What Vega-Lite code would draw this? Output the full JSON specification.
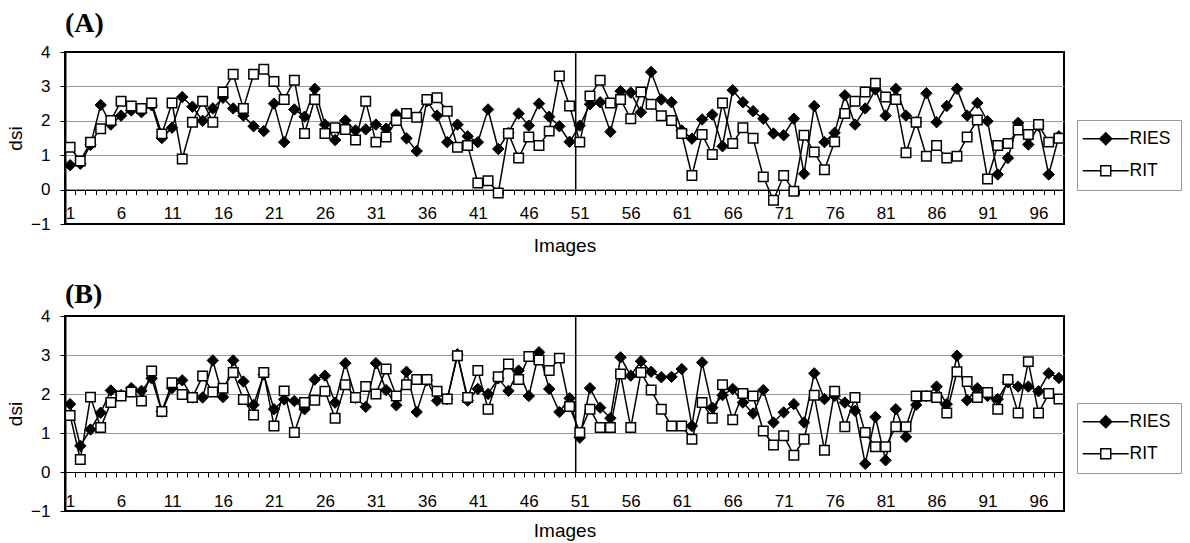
{
"$schema": "https://vega.github.io/schema/vega-lite/v6.json",
"padding": {"left": 5, "top": 9, "right": 0, "bottom": 0},
"spacing": 23,
"datasets": {
"a": [{"i":1,"RIES":0.71,"RIT":1.23},{"i":2,"RIES":0.75,"RIT":0.83},{"i":3,"RIES":1.3,"RIT":1.38},{"i":4,"RIES":2.46,"RIT":1.77},{"i":5,"RIES":1.89,"RIT":2.01},{"i":6,"RIES":2.15,"RIT":2.57},{"i":7,"RIES":2.3,"RIT":2.43},{"i":8,"RIES":2.25,"RIT":2.36},{"i":9,"RIES":2.45,"RIT":2.52},{"i":10,"RIES":1.5,"RIT":1.62},
{"i":11,"RIES":1.8,"RIT":2.52},{"i":12,"RIES":2.69,"RIT":0.89},{"i":13,"RIES":2.41,"RIT":1.96},{"i":14,"RIES":2.0,"RIT":2.57},{"i":15,"RIES":2.36,"RIT":1.96},{"i":16,"RIES":2.67,"RIT":2.84},{"i":17,"RIES":2.36,"RIT":3.35},{"i":18,"RIES":2.15,"RIT":2.36},{"i":19,"RIES":1.84,"RIT":3.35},{"i":20,"RIES":1.7,"RIT":3.5},
{"i":21,"RIES":2.5,"RIT":3.14},{"i":22,"RIES":1.38,"RIT":2.62},{"i":23,"RIES":2.33,"RIT":3.18},{"i":24,"RIES":2.12,"RIT":1.63},{"i":25,"RIES":2.93,"RIT":2.62},{"i":26,"RIES":1.89,"RIT":1.63},{"i":27,"RIES":1.44,"RIT":1.8},{"i":28,"RIES":2.01,"RIT":1.75},{"i":29,"RIES":1.72,"RIT":1.44},{"i":30,"RIES":1.75,"RIT":2.57},
{"i":31,"RIES":1.89,"RIT":1.38},{"i":32,"RIES":1.77,"RIT":1.53},{"i":33,"RIES":2.18,"RIT":2.01},{"i":34,"RIES":1.49,"RIT":2.21},{"i":35,"RIES":1.12,"RIT":2.1},{"i":36,"RIES":2.57,"RIT":2.62},{"i":37,"RIES":2.15,"RIT":2.67},{"i":38,"RIES":1.38,"RIT":2.28},{"i":39,"RIES":1.89,"RIT":1.23},{"i":40,"RIES":1.55,"RIT":1.28},
{"i":41,"RIES":1.38,"RIT":0.19},{"i":42,"RIES":2.33,"RIT":0.26},{"i":43,"RIES":1.18,"RIT":-0.1},{"i":44,"RIES":1.65,"RIT":1.63},{"i":45,"RIES":2.21,"RIT":0.92},{"i":46,"RIES":1.86,"RIT":1.53},{"i":47,"RIES":2.5,"RIT":1.28},{"i":48,"RIES":2.12,"RIT":1.7},{"i":49,"RIES":1.84,"RIT":3.3},{"i":50,"RIES":1.39,"RIT":2.43},
{"i":51,"RIES":1.86,"RIT":1.38},{"i":52,"RIES":2.48,"RIT":2.72},{"i":53,"RIES":2.54,"RIT":3.18},{"i":54,"RIES":1.68,"RIT":2.52},{"i":55,"RIES":2.86,"RIT":2.62},{"i":56,"RIES":2.82,"RIT":2.06},{"i":57,"RIES":2.25,"RIT":2.84},{"i":58,"RIES":3.42,"RIT":2.48},{"i":59,"RIES":2.62,"RIT":2.15},{"i":60,"RIES":2.54,"RIT":2.01},
{"i":61,"RIES":1.72,"RIT":1.63},{"i":62,"RIES":1.48,"RIT":0.41},{"i":63,"RIES":2.04,"RIT":1.6},{"i":64,"RIES":2.18,"RIT":1.02},{"i":65,"RIES":1.26,"RIT":2.52},{"i":66,"RIES":2.89,"RIT":1.34},{"i":67,"RIES":2.54,"RIT":1.8},{"i":68,"RIES":2.28,"RIT":1.49},{"i":69,"RIES":2.06,"RIT":0.37},{"i":70,"RIES":1.63,"RIT":-0.31},
{"i":71,"RIES":1.58,"RIT":0.41},{"i":72,"RIES":2.06,"RIT":-0.05},{"i":73,"RIES":0.46,"RIT":1.58},{"i":74,"RIES":2.43,"RIT":1.09},{"i":75,"RIES":1.38,"RIT":0.58},{"i":76,"RIES":1.65,"RIT":1.39},{"i":77,"RIES":2.74,"RIT":2.21},{"i":78,"RIES":1.89,"RIT":2.57},{"i":79,"RIES":2.36,"RIT":2.84},{"i":80,"RIES":2.91,"RIT":3.09},
{"i":81,"RIES":2.15,"RIT":2.69},{"i":82,"RIES":2.93,"RIT":2.62},{"i":83,"RIES":2.15,"RIT":1.07},{"i":84,"RIES":1.96,"RIT":1.96},{"i":85,"RIES":2.8,"RIT":0.97},{"i":86,"RIES":1.96,"RIT":1.28},{"i":87,"RIES":2.43,"RIT":0.92},{"i":88,"RIES":2.93,"RIT":0.97},{"i":89,"RIES":2.15,"RIT":1.53},{"i":90,"RIES":2.52,"RIT":2.02},
{"i":91,"RIES":1.99,"RIT":0.31},{"i":92,"RIES":0.44,"RIT":1.28},{"i":93,"RIES":0.92,"RIT":1.34},{"i":94,"RIES":1.94,"RIT":1.73},{"i":95,"RIES":1.31,"RIT":1.6},{"i":96,"RIES":1.85,"RIT":1.89},{"i":97,"RIES":0.44,"RIT":1.38},{"i":98,"RIES":1.55,"RIT":1.49}],
"b": [{"i":1,"RIES":1.74,"RIT":1.45},{"i":2,"RIES":0.67,"RIT":0.32},{"i":3,"RIES":1.09,"RIT":1.92},{"i":4,"RIES":1.52,"RIT":1.14},{"i":5,"RIES":2.09,"RIT":1.78},{"i":6,"RIES":1.97,"RIT":1.95},{"i":7,"RIES":2.15,"RIT":2.05},{"i":8,"RIES":2.08,"RIT":1.82},{"i":9,"RIES":2.4,"RIT":2.59},{"i":10,"RIES":1.55,"RIT":1.55},
{"i":11,"RIES":2.15,"RIT":2.29},{"i":12,"RIES":2.35,"RIT":1.99},{"i":13,"RIES":1.91,"RIT":1.91},{"i":14,"RIES":1.91,"RIT":2.46},{"i":15,"RIES":2.86,"RIT":2.05},{"i":16,"RIES":1.92,"RIT":2.15},{"i":17,"RIES":2.86,"RIT":2.55},{"i":18,"RIES":2.32,"RIT":1.86},{"i":19,"RIES":1.72,"RIT":1.46},{"i":20,"RIES":2.5,"RIT":2.55},
{"i":21,"RIES":1.61,"RIT":1.18},{"i":22,"RIES":1.86,"RIT":2.08},{"i":23,"RIES":1.82,"RIT":1.01},{"i":24,"RIES":1.61,"RIT":1.78},{"i":25,"RIES":2.37,"RIT":1.84},{"i":26,"RIES":2.47,"RIT":2.07},{"i":27,"RIES":1.78,"RIT":1.38},{"i":28,"RIES":2.79,"RIT":2.24},{"i":29,"RIES":1.9,"RIT":1.91},{"i":30,"RIES":1.67,"RIT":2.19},
{"i":31,"RIES":2.79,"RIT":2.0},{"i":32,"RIES":2.1,"RIT":2.64},{"i":33,"RIES":1.71,"RIT":1.95},{"i":34,"RIES":2.57,"RIT":2.24},{"i":35,"RIES":1.54,"RIT":2.37},{"i":36,"RIES":2.35,"RIT":2.37},{"i":37,"RIES":1.83,"RIT":2.07},{"i":38,"RIES":1.87,"RIT":1.87},{"i":39,"RIES":3.02,"RIT":2.98},{"i":40,"RIES":1.83,"RIT":1.91},
{"i":41,"RIES":2.13,"RIT":2.6},{"i":42,"RIES":2.0,"RIT":1.61},{"i":43,"RIES":2.4,"RIT":2.44},{"i":44,"RIES":2.08,"RIT":2.77},{"i":45,"RIES":2.6,"RIT":2.37},{"i":46,"RIES":1.95,"RIT":2.96},{"i":47,"RIES":3.07,"RIT":2.87},{"i":48,"RIES":2.13,"RIT":2.6},{"i":49,"RIES":1.54,"RIT":2.92},{"i":50,"RIES":1.89,"RIT":1.68},
{"i":51,"RIES":0.88,"RIT":1.01},{"i":52,"RIES":2.15,"RIT":1.61},{"i":53,"RIES":1.65,"RIT":1.14},{"i":54,"RIES":1.38,"RIT":1.14},{"i":55,"RIES":2.94,"RIT":2.51},{"i":56,"RIES":2.47,"RIT":1.14},{"i":57,"RIES":2.84,"RIT":2.55},{"i":58,"RIES":2.57,"RIT":2.1},{"i":59,"RIES":2.43,"RIT":1.61},{"i":60,"RIES":2.44,"RIT":1.18},
{"i":61,"RIES":2.64,"RIT":1.18},{"i":62,"RIES":1.18,"RIT":0.84},{"i":63,"RIES":2.81,"RIT":1.78},{"i":64,"RIES":1.65,"RIT":1.38},{"i":65,"RIES":1.97,"RIT":2.24},{"i":66,"RIES":2.13,"RIT":1.34},{"i":67,"RIES":1.78,"RIT":2.01},{"i":68,"RIES":1.5,"RIT":1.95},{"i":69,"RIES":2.1,"RIT":1.05},{"i":70,"RIES":1.27,"RIT":0.69},
{"i":71,"RIES":1.53,"RIT":0.93},{"i":72,"RIES":1.74,"RIT":0.43},{"i":73,"RIES":1.27,"RIT":0.84},{"i":74,"RIES":2.53,"RIT":1.97},{"i":75,"RIES":1.87,"RIT":0.56},{"i":76,"RIES":1.95,"RIT":2.07},{"i":77,"RIES":1.78,"RIT":1.16},{"i":78,"RIES":1.57,"RIT":1.91},{"i":79,"RIES":0.21,"RIT":1.01},{"i":80,"RIES":1.41,"RIT":0.65},
{"i":81,"RIES":0.3,"RIT":0.65},{"i":82,"RIES":1.61,"RIT":1.16},{"i":83,"RIES":0.9,"RIT":1.16},{"i":84,"RIES":1.72,"RIT":1.95},{"i":85,"RIES":1.95,"RIT":1.95},{"i":86,"RIES":2.19,"RIT":1.91},{"i":87,"RIES":1.74,"RIT":1.51},{"i":88,"RIES":2.98,"RIT":2.57},{"i":89,"RIES":1.84,"RIT":2.32},{"i":90,"RIES":2.15,"RIT":1.91},
{"i":91,"RIES":1.95,"RIT":2.04},{"i":92,"RIES":1.87,"RIT":1.61},{"i":93,"RIES":2.3,"RIT":2.37},{"i":94,"RIES":2.19,"RIT":1.51},{"i":95,"RIES":2.19,"RIT":2.83},{"i":96,"RIES":2.07,"RIT":1.51},{"i":97,"RIES":2.53,"RIT":2.01},{"i":98,"RIES":2.41,"RIT":1.87}],
"divider": [{"i":50.6,"v":0,"v2":4}]
},
"config": {
"font": "Liberation Sans",
"view": {"stroke": "black", "strokeWidth": 2},
"title": {"font": "Liberation Serif", "fontSize": 28, "fontWeight": "bold", "anchor": "start", "frame": "group", "color": "black"},
"axis": {"labelFont": "Liberation Sans", "titleFont": "Liberation Sans", "labelColor": "black", "titleColor": "black", "labelFontSize": 17, "titleFontSize": 19, "titleFontWeight": "normal", "tickColor": "black", "domainColor": "black", "tickSize": 5},
"legend": {"title": null, "orient": "none", "padding": 10, "strokeColor": "#999999", "fillColor": "white", "labelFont": "Liberation Sans", "labelFontSize": 17.5, "labelColor": "black", "symbolSize": 144, "symbolOffset": 10, "labelOffset": 15, "rowPadding": 13, "symbolStrokeWidth": 1.5, "symbolStrokeColor": "black", "symbolOpacity": 1}
},
"resolve": {"scale": {"shape": "independent", "fill": "independent", "stroke": "independent"}, "legend": {"shape": "independent", "fill": "independent", "stroke": "independent"}},
"vconcat": [
{
"title": {"text": "(A)", "offset": 5},
"width": 999, "height": 172,
"encoding": {
"x": {"field": "i", "type": "quantitative", "title": "Images", "scale": {"domain": [0.5, 98.5], "nice": false, "zero": false},
 "axis": {"values": [1,2,3,4,5,6,7,8,9,10,11,12,13,14,15,16,17,18,19,20,21,22,23,24,25,26,27,28,29,30,31,32,33,34,35,36,37,38,39,40,41,42,43,44,45,46,47,48,49,50,51,52,53,54,55,56,57,58,59,60,61,62,63,64,65,66,67,68,69,70,71,72,73,74,75,76,77,78,79,80,81,82,83,84,85,86,87,88,89,90,91,92,93,94,95,96,97,98],
  "tickOffset": 5.1, "labelOffset": -5.1, "labelExpr": "(datum.value - 1) % 5 === 0 ? datum.label : ''", "labelOverlap": false, "labelFlush": false, "grid": false,
  "offset": -34.4, "labelPadding": 11, "titlePadding": 15, "domainWidth": 1}},
"y": {"field": "v", "type": "quantitative", "title": "dsi", "scale": {"domain": [-1, 4], "nice": false, "zero": false},
 "axis": {"values": [-1,0,1,2,3,4], "grid": true, "gridColor": {"condition": {"test": "datum.value === 4 || datum.value === -1 || datum.value === 0", "value": "black"}, "value": "#999999"}, "labelPadding": 10, "titlePadding": 5, "domainWidth": 2}}
},
"layer": [
{"data": {"name": "divider"}, "mark": {"type": "rule", "color": "black", "strokeWidth": 1.5}, "encoding": {"y2": {"field": "v2"}}},
{"data": {"name": "a"}, "transform": [{"fold": ["RIES", "RIT"], "as": ["s", "v"]}, {"filter": "datum.s === 'RIES'"}], "mark": {"type": "line", "color": "black", "strokeWidth": 1.5}, "encoding": {}},
{"data": {"name": "a"}, "transform": [{"fold": ["RIES", "RIT"], "as": ["s", "v"]}, {"filter": "datum.s === 'RIES'"}], "mark": {"type": "point", "shape": "diamond", "filled": true, "fill": "black", "stroke": "black", "strokeWidth": 1, "size": 130, "opacity": 1}, "encoding": {}},
{"data": {"name": "a"}, "transform": [{"fold": ["RIES", "RIT"], "as": ["s", "v"]}, {"filter": "datum.s === 'RIT'"}], "mark": {"type": "line", "color": "black", "strokeWidth": 1.5}, "encoding": {}},
{"data": {"name": "a"}, "transform": [{"fold": ["RIES", "RIT"], "as": ["s", "v"]}, {"filter": "datum.s === 'RIT'"}], "mark": {"type": "point", "shape": "square", "filled": true, "fill": "white", "stroke": "black", "strokeWidth": 1.5, "size": 90, "opacity": 1}, "encoding": {}},
{"data": {"name": "a"}, "transform": [{"fold": ["RIES", "RIT"], "as": ["s", "v"]}, {"filter": "false"}], "mark": {"type": "point", "strokeWidth": 1.5, "opacity": 1},
 "encoding": {
  "shape": {"field": "s", "type": "nominal", "scale": {"domain": ["RIES", "RIT"], "range": ["M-3.83,0H-1M1,0H3.83M-1,0L0,-1L1,0L0,1Z", "M-3.83,0H-0.83M0.83,0H3.83M-0.83,-0.83H0.83V0.83H-0.83Z"]}, "legend": {"legendX": 1012, "legendY": 68}},
  "fill": {"field": "s", "type": "nominal", "scale": {"domain": ["RIES", "RIT"], "range": ["black", "white"]}, "legend": {"legendX": 1012, "legendY": 68}},
  "stroke": {"field": "s", "type": "nominal", "scale": {"domain": ["RIES", "RIT"], "range": ["black", "black"]}, "legend": {"legendX": 1012, "legendY": 68}}}}
]
},
{
"title": {"text": "(B)", "offset": -2},
"width": 999, "height": 195,
"encoding": {
"x": {"field": "i", "type": "quantitative", "title": "Images", "scale": {"domain": [0.5, 98.5], "nice": false, "zero": false},
 "axis": {"values": [1,2,3,4,5,6,7,8,9,10,11,12,13,14,15,16,17,18,19,20,21,22,23,24,25,26,27,28,29,30,31,32,33,34,35,36,37,38,39,40,41,42,43,44,45,46,47,48,49,50,51,52,53,54,55,56,57,58,59,60,61,62,63,64,65,66,67,68,69,70,71,72,73,74,75,76,77,78,79,80,81,82,83,84,85,86,87,88,89,90,91,92,93,94,95,96,97,98],
  "tickOffset": 5.1, "labelOffset": -5.1, "labelExpr": "(datum.value - 1) % 5 === 0 ? datum.label : ''", "labelOverlap": false, "labelFlush": false, "grid": false,
  "offset": -39, "labelPadding": 16.6, "titlePadding": 12, "domainWidth": 1}},
"y": {"field": "v", "type": "quantitative", "title": "dsi", "scale": {"domain": [-1, 4], "nice": false, "zero": false},
 "axis": {"values": [-1,0,1,2,3,4], "grid": true, "gridColor": {"condition": {"test": "datum.value === 4 || datum.value === -1 || datum.value === 0", "value": "black"}, "value": "#999999"}, "labelPadding": 10, "titlePadding": 5, "domainWidth": 2}}
},
"layer": [
{"data": {"name": "divider"}, "mark": {"type": "rule", "color": "black", "strokeWidth": 1.5}, "encoding": {"y2": {"field": "v2"}}},
{"data": {"name": "b"}, "transform": [{"fold": ["RIES", "RIT"], "as": ["s", "v"]}, {"filter": "datum.s === 'RIES'"}], "mark": {"type": "line", "color": "black", "strokeWidth": 1.5}, "encoding": {}},
{"data": {"name": "b"}, "transform": [{"fold": ["RIES", "RIT"], "as": ["s", "v"]}, {"filter": "datum.s === 'RIES'"}], "mark": {"type": "point", "shape": "diamond", "filled": true, "fill": "black", "stroke": "black", "strokeWidth": 1, "size": 130, "opacity": 1}, "encoding": {}},
{"data": {"name": "b"}, "transform": [{"fold": ["RIES", "RIT"], "as": ["s", "v"]}, {"filter": "datum.s === 'RIT'"}], "mark": {"type": "line", "color": "black", "strokeWidth": 1.5}, "encoding": {}},
{"data": {"name": "b"}, "transform": [{"fold": ["RIES", "RIT"], "as": ["s", "v"]}, {"filter": "datum.s === 'RIT'"}], "mark": {"type": "point", "shape": "square", "filled": true, "fill": "white", "stroke": "black", "strokeWidth": 1.5, "size": 90, "opacity": 1}, "encoding": {}},
{"data": {"name": "b"}, "transform": [{"fold": ["RIES", "RIT"], "as": ["s", "v"]}, {"filter": "false"}], "mark": {"type": "point", "strokeWidth": 1.5, "opacity": 1},
 "encoding": {
  "shape": {"field": "s", "type": "nominal", "scale": {"domain": ["RIES", "RIT"], "range": ["M-3.83,0H-1M1,0H3.83M-1,0L0,-1L1,0L0,1Z", "M-3.83,0H-0.83M0.83,0H3.83M-0.83,-0.83H0.83V0.83H-0.83Z"]}, "legend": {"legendX": 1012, "legendY": 87}},
  "fill": {"field": "s", "type": "nominal", "scale": {"domain": ["RIES", "RIT"], "range": ["black", "white"]}, "legend": {"legendX": 1012, "legendY": 87}},
  "stroke": {"field": "s", "type": "nominal", "scale": {"domain": ["RIES", "RIT"], "range": ["black", "black"]}, "legend": {"legendX": 1012, "legendY": 87}}}}
]
}
]
}
